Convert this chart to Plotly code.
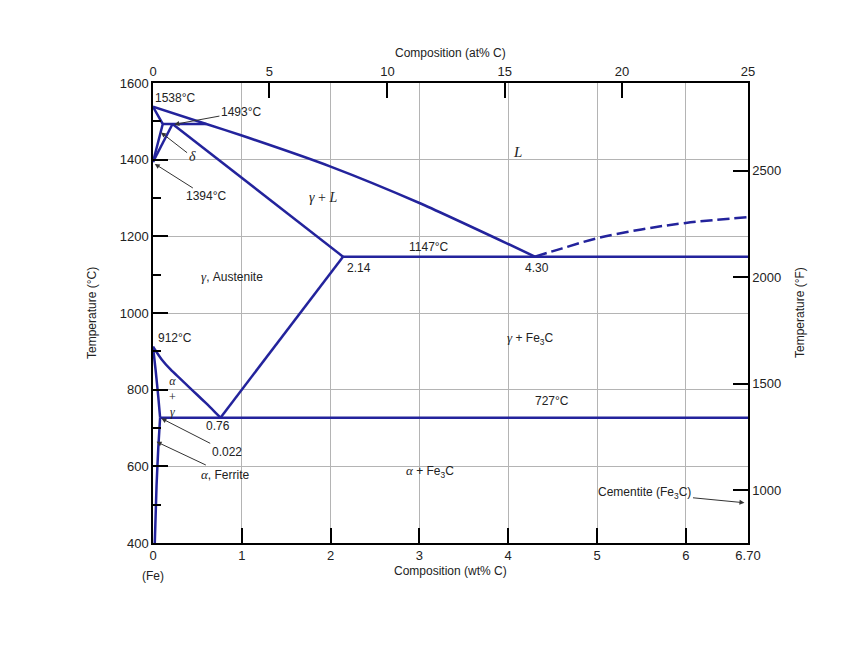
import plotly.graph_objects as go

# ---------------- data (wt% C, temperature °C) ----------------
liquidus_wt = [0, 0.6, 1.0, 2.0, 3.0, 4.0, 4.30]
liquidus_T = [1538, 1493, 1463, 1382, 1287, 1180, 1147]

cem_liquidus_wt = [4.30, 4.6, 5.0, 5.5, 6.0, 6.70]
cem_liquidus_T = [1147, 1168, 1195, 1218, 1235, 1250]

delta_wt = [0, 0.11, 0]
delta_T = [1538, 1493, 1394]

peritectic_wt = [0.11, 0.6]
peritectic_T = [1493, 1493]

gamma_delta_wt = [0, 0.22]
gamma_delta_T = [1394, 1493]

solidus_wt = [0.22, 2.14]
solidus_T = [1493, 1147]

eutectic_wt = [2.14, 6.70]
eutectic_T = [1147, 1147]

acm_wt = [2.14, 0.76]
acm_T = [1147, 727]

a3_wt = [0, 0.1, 0.2, 0.3, 0.4, 0.5, 0.6, 0.7, 0.76]
a3_T = [912, 878, 852, 830, 808, 786, 764, 741, 727]

alpha_wt = [0, 0.03, 0.06, 0.08]
alpha_T = [912, 850, 780, 727]

eutectoid_wt = [0.08, 6.70]
eutectoid_T = [727, 727]

solvus_wt = [0.08, 0.06, 0.04, 0.02]
solvus_T = [727, 650, 550, 400]

# ---------------- axes ----------------
wt_ticks = [0, 1, 2, 3, 4, 5, 6, 6.70]
wt_labels = ["0", "1", "2", "3", "4", "5", "6", "6.70"]
at_tick_pos = [0, 1.31, 2.64, 3.96, 5.28, 6.70]
at_labels = ["0", "5", "10", "15", "20", "25"]
T_range = [400, 1600]
F_ticks = [1000, 1500, 2000, 2500]
F_range = [T_range[0] * 9 / 5 + 32, T_range[1] * 9 / 5 + 32]

BLUE = "#23239c"
LW = 2.5
TXT = "#222222"
FONT = "Liberation Sans, Arial, sans-serif"
SERIF = "Liberation Serif, Times New Roman, serif"


def gk(ch, size=13):
    return f'<span style="font-family:Liberation Serif;font-size:{size}px"><i>{ch}</i></span>'


fig = go.Figure()

straight_lines = [
    (delta_wt, delta_T), (peritectic_wt, peritectic_T),
    (gamma_delta_wt, gamma_delta_T), (solidus_wt, solidus_T), (eutectic_wt, eutectic_T),
    (acm_wt, acm_T), (eutectoid_wt, eutectoid_T),
]
curved_lines = [(liquidus_wt, liquidus_T), (a3_wt, a3_T), (alpha_wt, alpha_T),
                (solvus_wt, solvus_T)]
for xs, ys in straight_lines:
    fig.add_trace(go.Scatter(x=xs, y=ys, mode="lines", line=dict(color=BLUE, width=LW),
                             showlegend=False, hoverinfo="skip"))
for xs, ys in curved_lines:
    fig.add_trace(go.Scatter(x=xs, y=ys, mode="lines",
                             line=dict(color=BLUE, width=LW, shape="spline", smoothing=0.6),
                             showlegend=False, hoverinfo="skip"))
fig.add_trace(go.Scatter(x=cem_liquidus_wt, y=cem_liquidus_T, mode="lines",
                         line=dict(color=BLUE, width=LW, dash="12px,5px", shape="spline"),
                         showlegend=False, hoverinfo="skip"))

# dummy trace for secondary axes
fig.add_trace(go.Scatter(x=[0, 6.70], y=F_range, xaxis="x2", yaxis="y2", mode="markers",
                         marker=dict(opacity=0), showlegend=False, hoverinfo="skip"))

# ---------------- labels ----------------
def txt(x, y, text, size=12, family=FONT, xanchor="center", **kw):
    fig.add_annotation(x=x, y=y, text=text, showarrow=False, xanchor=xanchor,
                       font=dict(family=family, size=size, color=TXT), **kw)

def arrow(x, y, tx, ty, text, size=12, family=FONT):
    fig.add_annotation(x=x, y=y, ax=tx, ay=ty, axref="x", ayref="y", text=text,
                       showarrow=True, arrowhead=2, arrowsize=1, arrowwidth=1,
                       arrowcolor="#333333", standoff=0,
                       font=dict(family=family, size=size, color=TXT))

txt(0.0, 1561, "1538°C", xanchor="left")
arrow(0.24, 1492, 0.99, 1524, "1493°C")
arrow(0.09, 1471, 0.44, 1408, "<i>δ</i>", size=14, family=SERIF)
arrow(0.02, 1389, 0.60, 1304, "1394°C")
txt(4.10, 1420, "<i>L</i>", size=15, family=SERIF)
txt(1.91, 1302, "<i>γ</i> + <i>L</i>", size=14, family=SERIF)
txt(3.11, 1172, "1147°C")
txt(2.32, 1118, "2.14")
txt(4.32, 1118, "4.30")
txt(0.89, 1095, gk("γ") + ", Austenite")
txt(0.25, 934, "912°C")
txt(4.24, 933, gk("γ") + " + Fe<sub>3</sub>C")
txt(0.225, 783, "<i>α</i><br>+<br><i>γ</i>", size=12, family=SERIF)
txt(4.49, 771, "727°C")
txt(0.73, 705, "0.76")
arrow(0.095, 725, 0.83, 638, "0.022")
arrow(0.04, 664, 0.81, 580, gk("α") + ", Ferrite")
txt(3.12, 586, gk("α") + " + Fe<sub>3</sub>C")
arrow(6.66, 505, 5.54, 530, "Cementite (Fe<sub>3</sub>C)")

# axis titles (pixel offsets from the plot edges)
title_font = dict(family=FONT, size=12, color=TXT)
fig.add_annotation(x=0.0, y=0, xref="x", yref="paper", yanchor="middle", yshift=-33,
                   text="(Fe)", showarrow=False, font=title_font)
fig.add_annotation(x=0.5, y=0, xref="paper", yref="paper", yanchor="middle", yshift=-28,
                   text="Composition (wt% C)", showarrow=False, font=title_font)
fig.add_annotation(x=0.5, y=1, xref="paper", yref="paper", yanchor="middle", yshift=30,
                   text="Composition (at% C)", showarrow=False, font=title_font)
fig.add_annotation(x=0, y=0.5, xref="paper", yref="paper", xanchor="center", xshift=-61,
                   text="Temperature (°C)", textangle=-90, showarrow=False, font=title_font)
fig.add_annotation(x=1, y=0.5, xref="paper", yref="paper", xanchor="center", xshift=52,
                   text="Temperature (°F)", textangle=-90, showarrow=False, font=title_font)

tickfont = dict(family=FONT, size=13, color=TXT)
fig.update_layout(
    width=861, height=670,
    margin=dict(l=145, r=121, t=75, b=135),
    paper_bgcolor="white", plot_bgcolor="white",
    xaxis=dict(range=[0, 6.70], tickvals=wt_ticks, ticktext=wt_labels, ticks="inside",
               ticklen=15, tickwidth=1.5, tickcolor="black", showline=True, linecolor="black",
               linewidth=1.5, showgrid=True, gridcolor="#b4b4b4", gridwidth=1, zeroline=False,
               tickfont=tickfont, fixedrange=True),
    xaxis2=dict(range=[0, 6.70], tickvals=at_tick_pos, ticktext=at_labels, overlaying="x",
                side="top", anchor="y", ticks="inside", ticklen=15, tickwidth=1.5,
                tickcolor="black", showline=True, linecolor="black", linewidth=1.5,
                showgrid=False, zeroline=False, tickfont=tickfont),
    yaxis=dict(range=T_range, dtick=200, ticks="inside", ticklen=15, tickwidth=1.5,
               tickcolor="black", showline=True, linecolor="black", linewidth=1.5,
               showgrid=True, gridcolor="#b4b4b4", gridwidth=1, zeroline=False,
               tickfont=tickfont,
               minor=dict(dtick=100, ticks="inside", ticklen=8, tickwidth=1.5,
                          tickcolor="black", showgrid=False)),
    yaxis2=dict(range=F_range, tickvals=F_ticks, overlaying="y", side="right", anchor="x",
                ticks="inside", ticklen=15, tickwidth=1.5, tickcolor="black", showline=True,
                linecolor="black", linewidth=1.5, showgrid=False, zeroline=False,
                tickfont=tickfont),
)

fig.write_html("out.html")
